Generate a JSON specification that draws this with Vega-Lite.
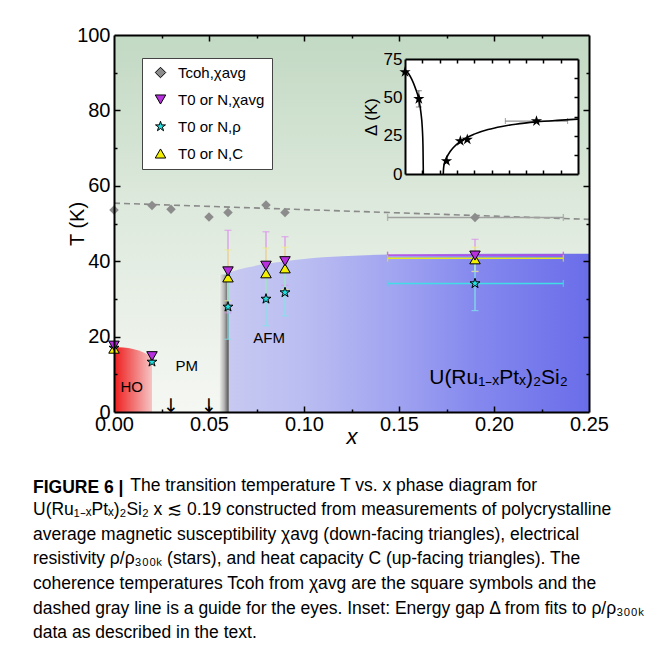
{
  "$schema": "https://vega.github.io/schema/vega-lite/v6.json",
  "width": 475,
  "height": 377,
  "autosize": {"type": "none"},
  "padding": {"left": 114, "top": 35, "right": 74, "bottom": 240},
  "background": "white",
  "config": {
    "view": {"stroke": null},
    "font": "Liberation Sans",
    "axis": {"labelFont": "Liberation Sans", "titleFont": "Liberation Sans", "grid": false, "domainColor": "black", "tickColor": "black", "labelColor": "black", "titleColor": "black", "labelFlush": false, "labelOverlap": false}
  },
  "title": {
    "text": "FIGURE 6 |",
    "subtitle": [
      "\u200b\u00a0\u00a0\u00a0\u00a0\u00a0\u00a0\u00a0\u00a0\u00a0\u00a0\u00a0\u00a0\u00a0\u00a0\u00a0\u00a0\u00a0\u00a0\u00a0\u00a0The transition temperature T vs. x phase diagram for",
      "U(Ru₁₋ₓPtₓ)₂Si₂ x ≲ 0.19 constructed from measurements of polycrystalline",
      "average magnetic susceptibility χavg (down-facing triangles), electrical",
      "resistivity ρ/ρ₃₀₀ₖ (stars), and heat capacity C (up-facing triangles). The",
      "coherence temperatures Tcoh from χavg are the square symbols and the",
      "dashed gray line is a guide for the eyes. Inset: Energy gap Δ from fits to ρ/ρ₃₀₀ₖ",
      "data as described in the text."
    ],
    "orient": "bottom",
    "anchor": "start",
    "frame": "group",
    "dx": -81,
    "offset": 32,
    "font": "Liberation Sans",
    "fontSize": 17.5,
    "fontWeight": "bold",
    "color": "black",
    "subtitleFont": "Liberation Sans",
    "subtitleFontSize": 17.5,
    "subtitleColor": "black",
    "subtitleLineHeight": 24.6,
    "subtitlePadding": -20
  },
  "datasets": {
    "ho": [
      {"x": 0, "T": 17.2}, {"x": 0.005, "T": 17.1}, {"x": 0.01, "T": 16.7}, {"x": 0.015, "T": 15.9}, {"x": 0.02, "T": 14.6}
    ],
    "afm": [
      {"x": 0.0605, "T": 37.0}, {"x": 0.07, "T": 38.3}, {"x": 0.08, "T": 39.3}, {"x": 0.09, "T": 40.0}, {"x": 0.1, "T": 40.6},
      {"x": 0.12, "T": 41.3}, {"x": 0.145, "T": 41.8}, {"x": 0.2, "T": 42.0}, {"x": 0.25, "T": 42.0}
    ],
    "dash": [{"x": 0, "T": 55.4}, {"x": 0.25, "T": 51.1}],
    "pts": [
      {"x": 0, "T": 53.6, "series": "Tcoh,χavg"},
      {"x": 0.02, "T": 54.8, "series": "Tcoh,χavg"},
      {"x": 0.03, "T": 53.8, "series": "Tcoh,χavg"},
      {"x": 0.05, "T": 51.7, "series": "Tcoh,χavg"},
      {"x": 0.06, "T": 52.9, "series": "Tcoh,χavg"},
      {"x": 0.08, "T": 54.9, "series": "Tcoh,χavg"},
      {"x": 0.09, "T": 52.9, "series": "Tcoh,χavg"},
      {"x": 0.19, "T": 51.6, "series": "Tcoh,χavg"},
      {"x": 0, "T": 17.0, "series": "T0 or N,ρ"},
      {"x": 0.02, "T": 13.3, "series": "T0 or N,ρ"},
      {"x": 0.06, "T": 27.9, "series": "T0 or N,ρ"},
      {"x": 0.08, "T": 30.0, "series": "T0 or N,ρ"},
      {"x": 0.09, "T": 31.7, "series": "T0 or N,ρ"},
      {"x": 0.19, "T": 34.1, "series": "T0 or N,ρ"},
      {"x": 0, "T": 16.8, "series": "T0 or N,C"},
      {"x": 0.06, "T": 35.7, "series": "T0 or N,C"},
      {"x": 0.08, "T": 36.8, "series": "T0 or N,C"},
      {"x": 0.09, "T": 38.1, "series": "T0 or N,C"},
      {"x": 0.19, "T": 40.5, "series": "T0 or N,C"},
      {"x": 0, "T": 17.6, "series": "T0 or N,χavg"},
      {"x": 0.02, "T": 14.8, "series": "T0 or N,χavg"},
      {"x": 0.06, "T": 37.3, "series": "T0 or N,χavg"},
      {"x": 0.08, "T": 38.8, "series": "T0 or N,χavg"},
      {"x": 0.09, "T": 40.0, "series": "T0 or N,χavg"},
      {"x": 0.19, "T": 41.5, "series": "T0 or N,χavg"}
    ],
    "errv": [
      {"x": 0.06, "lo": 26.3, "hi": 48.2, "series": "T0 or N,χavg"},
      {"x": 0.06, "lo": 29.5, "hi": 43.0, "series": "T0 or N,C"},
      {"x": 0.06, "lo": 19.3, "hi": 36.5, "series": "T0 or N,ρ"},
      {"x": 0.08, "lo": 29.8, "hi": 47.8, "series": "T0 or N,χavg"},
      {"x": 0.08, "lo": 30.2, "hi": 43.5, "series": "T0 or N,C"},
      {"x": 0.08, "lo": 22.9, "hi": 37.1, "series": "T0 or N,ρ"},
      {"x": 0.09, "lo": 33.6, "hi": 46.5, "series": "T0 or N,χavg"},
      {"x": 0.09, "lo": 32.5, "hi": 43.7, "series": "T0 or N,C"},
      {"x": 0.09, "lo": 25.5, "hi": 38.0, "series": "T0 or N,ρ"},
      {"x": 0.19, "lo": 37.2, "hi": 45.8, "series": "T0 or N,χavg"},
      {"x": 0.19, "lo": 37.3, "hi": 43.7, "series": "T0 or N,C"},
      {"x": 0.19, "lo": 26.9, "hi": 41.3, "series": "T0 or N,ρ"}
    ],
    "errh": [
      {"T": 51.6, "lo": 0.144, "hi": 0.2365, "series": "Tcoh,χavg"},
      {"T": 41.6, "lo": 0.144, "hi": 0.2365, "series": "T0 or N,χavg"},
      {"T": 40.8, "lo": 0.144, "hi": 0.2365, "series": "T0 or N,C"},
      {"T": 34.1, "lo": 0.144, "hi": 0.2365, "series": "T0 or N,ρ"}
    ],
    "labels": [
      {"x": 0.0093, "T": 6.7, "label": "HO"},
      {"x": 0.0383, "T": 12.3, "label": "PM"},
      {"x": 0.0816, "T": 19.5, "label": "AFM"}
    ],
    "compound": [{"x": 0.2024, "T": 7.4, "label": "U(Ru₁₋ₓPtₓ)₂Si₂"}],
    "arrows": [{"x": 0.03, "T": 0, "label": "↓"}, {"x": 0.05, "T": 0, "label": "↓"}],
    "gap": [
      {"x": 0, "D": 68, "branch": "L"}, {"x": 0.005, "D": 65.5, "branch": "L"}, {"x": 0.01, "D": 61.5, "branch": "L"},
      {"x": 0.015, "D": 56, "branch": "L"}, {"x": 0.02, "D": 48.5, "branch": "L"}, {"x": 0.023, "D": 40, "branch": "L"},
      {"x": 0.025, "D": 30, "branch": "L"}, {"x": 0.026, "D": 18, "branch": "L"}, {"x": 0.0265, "D": 0, "branch": "L"},
      {"x": 0.0553, "D": 0, "branch": "R"}, {"x": 0.0558, "D": 4, "branch": "R"}, {"x": 0.057, "D": 7, "branch": "R"},
      {"x": 0.06, "D": 10.5, "branch": "R"}, {"x": 0.065, "D": 14.5, "branch": "R"}, {"x": 0.07, "D": 17.3, "branch": "R"},
      {"x": 0.08, "D": 21.3, "branch": "R"}, {"x": 0.09, "D": 24, "branch": "R"}, {"x": 0.1, "D": 26, "branch": "R"},
      {"x": 0.12, "D": 29, "branch": "R"}, {"x": 0.14, "D": 31, "branch": "R"}, {"x": 0.16, "D": 32.5, "branch": "R"},
      {"x": 0.19, "D": 34, "branch": "R"}, {"x": 0.22, "D": 35, "branch": "R"}, {"x": 0.25, "D": 35.8, "branch": "R"}
    ],
    "gapstars": [
      {"x": 0, "D": 66.5}, {"x": 0.02, "D": 49}, {"x": 0.06, "D": 8.5}, {"x": 0.08, "D": 21.5}, {"x": 0.09, "D": 22.5}, {"x": 0.19, "D": 34.5}
    ],
    "gaperrv": [{"x": 0.02, "lo": 43.7, "hi": 54.3}],
    "gaperrh": [{"D": 34.5, "lo": 0.145, "hi": 0.235}]
  },
  "resolve": {"scale": {"x": "independent", "y": "independent"}},
  "layer": [
    {
      "resolve": {"axis": {"x": "independent", "y": "independent"}},
      "layer": [
        {
          "data": {"values": [{}]},
          "mark": {"type": "rect", "color": {"gradient": "linear", "x1": 0, "y1": 0, "x2": 0, "y2": 1, "stops": [{"offset": 0, "color": "#c2d9c3"}, {"offset": 0.45, "color": "#dde9dc"}, {"offset": 1, "color": "#f5f7f3"}]}},
          "encoding": {
            "x": {"datum": 0, "type": "quantitative", "scale": {"domain": [0, 0.25], "nice": false, "zero": false}, "axis": null},
            "x2": {"datum": 0.25},
            "y": {"datum": 0, "type": "quantitative", "scale": {"domain": [0, 100], "nice": false}, "axis": null},
            "y2": {"datum": 100}
          }
        },
        {
          "data": {"name": "ho"},
          "mark": {"type": "area", "interpolate": "monotone", "color": {"gradient": "linear", "x1": 0, "y1": 0, "x2": 1, "y2": 0, "stops": [{"offset": 0, "color": "#ee1c1c"}, {"offset": 1, "color": "#f6c4c4"}]}},
          "encoding": {
            "x": {"field": "x", "type": "quantitative", "scale": {"domain": [0, 0.25], "nice": false, "zero": false},
              "axis": {"orient": "bottom", "zindex": 2, "values": [0.025, 0.05, 0.075, 0.1, 0.125, 0.15, 0.175, 0.2, 0.225], "labels": false, "domain": false, "title": null, "tickWidth": 1.5,
                "tickSize": {"condition": {"test": "abs(datum.value*20 - round(datum.value*20)) < 0.001", "value": -6}, "value": -3}}},
            "y": {"field": "T", "type": "quantitative", "scale": {"domain": [0, 100], "nice": false},
              "axis": {"orient": "left", "zindex": 2, "values": [10, 20, 30, 40, 50, 60, 70, 80, 90], "labels": false, "domain": false, "title": null, "tickWidth": 1.5,
                "tickSize": {"condition": {"test": "datum.value % 20 === 0", "value": -6}, "value": -3}}}
          }
        },
        {
          "data": {"name": "afm"},
          "mark": {"type": "area", "interpolate": "monotone", "color": {"gradient": "linear", "x1": 0, "y1": 0, "x2": 1, "y2": 0, "stops": [{"offset": 0, "color": "#c7c9f1"}, {"offset": 0.21, "color": "#babdf1"}, {"offset": 0.47, "color": "#a0a3f0"}, {"offset": 0.68, "color": "#8589ee"}, {"offset": 1, "color": "#6a6de9"}]}},
          "encoding": {
            "x": {"field": "x", "type": "quantitative", "scale": {"domain": [0, 0.25], "nice": false, "zero": false},
              "axis": {"orient": "top", "zindex": 2, "values": [0.025, 0.05, 0.075, 0.1, 0.125, 0.15, 0.175, 0.2, 0.225], "labels": false, "domain": true, "domainWidth": 2, "title": null, "tickWidth": 1.5,
                "tickSize": {"condition": {"test": "abs(datum.value*20 - round(datum.value*20)) < 0.001", "value": -6}, "value": -3}}},
            "y": {"field": "T", "type": "quantitative", "scale": {"domain": [0, 100], "nice": false},
              "axis": {"orient": "right", "zindex": 2, "values": [10, 20, 30, 40, 50, 60, 70, 80, 90], "labels": false, "domain": true, "domainWidth": 2, "title": null, "tickWidth": 1.5,
                "tickSize": {"condition": {"test": "datum.value % 20 === 0", "value": -6}, "value": -3}}}
          }
        },
        {
          "data": {"values": [{}]},
          "mark": {"type": "rect", "color": {"gradient": "linear", "x1": 0, "y1": 0, "x2": 1, "y2": 0, "stops": [{"offset": 0, "color": "#eef1ec"}, {"offset": 0.5, "color": "#b4b4b4"}, {"offset": 0.9, "color": "#5e5e5e"}, {"offset": 1, "color": "#8a8a9a"}]}},
          "encoding": {
            "x": {"datum": 0.0555, "type": "quantitative", "axis": null},
            "x2": {"datum": 0.0605},
            "y": {"datum": 0, "type": "quantitative", "axis": null},
            "y2": {"datum": 36.5}
          }
        },
        {
          "data": {"name": "dash"},
          "mark": {"type": "line", "stroke": "#8a8a8a", "strokeWidth": 1.6, "strokeDash": [6, 4]},
          "encoding": {
            "x": {"field": "x", "type": "quantitative", "scale": {"domain": [0, 0.25], "nice": false, "zero": false},
              "axis": {"orient": "bottom", "zindex": 2, "values": [0, 0.05, 0.1, 0.15, 0.2, 0.25], "format": ".2f", "ticks": false, "labelPadding": 2, "labelFontSize": 20, "domain": true, "domainWidth": 2,
                "title": "x", "titleFontStyle": "italic", "titleFontWeight": "normal", "titleFontSize": 22, "titleX": 237.5, "titleY": 31, "titleBaseline": "alphabetic"}},
            "y": {"field": "T", "type": "quantitative", "scale": {"domain": [0, 100], "nice": false},
              "axis": {"orient": "left", "zindex": 2, "values": [0, 20, 40, 60, 80, 100], "ticks": false, "labelPadding": 4, "labelFontSize": 20, "domain": true, "domainWidth": 2,
                "title": "T (K)", "titleFontWeight": "normal", "titleFontSize": 20, "titleX": -37, "titleY": 188.5, "titleBaseline": "middle", "titleAngle": -90}}
          }
        },
        {
          "data": {"name": "errv"},
          "transform": [{"filter": "datum.series === 'T0 or N,χavg'"}],
          "mark": {"type": "errorbar", "ticks": {"size": 7}, "thickness": 1.2, "color": "#dc90ee"},
          "encoding": {
            "x": {"field": "x", "type": "quantitative", "axis": null},
            "y": {"field": "lo", "type": "quantitative", "axis": null},
            "y2": {"field": "hi"}
          }
        },
        {
          "data": {"name": "errv"},
          "transform": [{"filter": "datum.series === 'T0 or N,C'"}],
          "mark": {"type": "errorbar", "ticks": {"size": 7}, "thickness": 1.2, "color": "#efef80"},
          "encoding": {
            "x": {"field": "x", "type": "quantitative", "axis": null},
            "y": {"field": "lo", "type": "quantitative", "axis": null},
            "y2": {"field": "hi"}
          }
        },
        {
          "data": {"name": "errv"},
          "transform": [{"filter": "datum.series === 'T0 or N,ρ'"}],
          "mark": {"type": "errorbar", "ticks": {"size": 7}, "thickness": 1.2, "color": "#80e4ea"},
          "encoding": {
            "x": {"field": "x", "type": "quantitative", "axis": null},
            "y": {"field": "lo", "type": "quantitative", "axis": null},
            "y2": {"field": "hi"}
          }
        },
        {
          "data": {"name": "errh"},
          "transform": [{"filter": "datum.series === 'Tcoh,χavg'"}],
          "mark": {"type": "errorbar", "ticks": {"size": 7}, "thickness": 1.4, "color": "#a0a0a0"},
          "encoding": {
            "y": {"field": "T", "type": "quantitative", "axis": null},
            "x": {"field": "lo", "type": "quantitative", "axis": null},
            "x2": {"field": "hi"}
          }
        },
        {
          "data": {"name": "errh"},
          "transform": [{"filter": "datum.series === 'T0 or N,ρ'"}],
          "mark": {"type": "errorbar", "ticks": {"size": 7}, "thickness": 1.4, "color": "#40dde6"},
          "encoding": {
            "y": {"field": "T", "type": "quantitative", "axis": null},
            "x": {"field": "lo", "type": "quantitative", "axis": null},
            "x2": {"field": "hi"}
          }
        },
        {
          "data": {"name": "errh"},
          "transform": [{"filter": "datum.series === 'T0 or N,χavg'"}],
          "mark": {"type": "errorbar", "ticks": {"size": 7}, "thickness": 1.4, "color": "#c040e6"},
          "encoding": {
            "y": {"field": "T", "type": "quantitative", "axis": null},
            "x": {"field": "lo", "type": "quantitative", "axis": null},
            "x2": {"field": "hi"}
          }
        },
        {
          "data": {"name": "errh"},
          "transform": [{"filter": "datum.series === 'T0 or N,C'"}],
          "mark": {"type": "errorbar", "ticks": {"size": 7}, "thickness": 1.4, "color": "#e6e620"},
          "encoding": {
            "y": {"field": "T", "type": "quantitative", "axis": null},
            "x": {"field": "lo", "type": "quantitative", "axis": null},
            "x2": {"field": "hi"}
          }
        },
        {
          "data": {"name": "pts"},
          "transform": [{"filter": "datum.series === 'Tcoh,χavg'"}],
          "mark": {"type": "point", "filled": true, "size": 90, "opacity": 1},
          "encoding": {
            "x": {"field": "x", "type": "quantitative", "axis": null},
            "y": {"field": "T", "type": "quantitative", "axis": null},
            "color": {"field": "series", "type": "nominal",
              "scale": {"domain": ["Tcoh,χavg", "T0 or N,χavg", "T0 or N,ρ", "T0 or N,C"], "range": ["#8c8c8c", "#b82fe0", "#22dede", "#f2f000"]},
              "legend": {"title": null, "zindex": 3, "orient": "none", "legendX": 28, "legendY": 23, "fillColor": "white", "strokeColor": "#444", "padding": 7, "labelFontSize": 15, "labelFont": "Liberation Sans", "labelColor": "black", "symbolSize": 110, "symbolOpacity": 1, "symbolStrokeColor": "black", "symbolStrokeWidth": 1, "rowPadding": 11, "labelOffset": 10, "symbolOffset": 4}},
            "shape": {"field": "series", "type": "nominal",
              "scale": {"domain": ["Tcoh,χavg", "T0 or N,χavg", "T0 or N,ρ", "T0 or N,C"], "range": ["diamond", "triangle-down", "M0,-1L0.2245,-0.309L0.9511,-0.309L0.3633,0.118L0.5878,0.809L0,0.382L-0.5878,0.809L-0.3633,0.118L-0.9511,-0.309L-0.2245,-0.309Z", "triangle-up"]},
              "legend": {"title": null, "zindex": 3, "orient": "none", "legendX": 28, "legendY": 23, "fillColor": "white", "strokeColor": "#444", "padding": 7, "labelFontSize": 15, "labelFont": "Liberation Sans", "labelColor": "black", "symbolSize": 110, "symbolOpacity": 1, "symbolStrokeColor": "black", "symbolStrokeWidth": 1, "rowPadding": 11, "labelOffset": 10, "symbolOffset": 4}}
          }
        },
        {
          "data": {"name": "pts"},
          "transform": [{"filter": "datum.series !== 'Tcoh,χavg'"}],
          "mark": {"type": "point", "filled": true, "size": 110, "opacity": 1, "stroke": "black", "strokeWidth": 1},
          "encoding": {
            "x": {"field": "x", "type": "quantitative", "axis": null},
            "y": {"field": "T", "type": "quantitative", "axis": null},
            "color": {"field": "series", "type": "nominal"},
            "shape": {"field": "series", "type": "nominal"}
          }
        },
        {
          "data": {"name": "labels"},
          "mark": {"type": "text", "fontSize": 15, "font": "Liberation Sans", "color": "black", "baseline": "middle", "align": "center"},
          "encoding": {
            "x": {"field": "x", "type": "quantitative", "axis": null},
            "y": {"field": "T", "type": "quantitative", "axis": null},
            "text": {"field": "label"}
          }
        },
        {
          "data": {"name": "compound"},
          "mark": {"type": "text", "fontSize": 21, "font": "Liberation Sans", "color": "black", "baseline": "alphabetic", "align": "center"},
          "encoding": {
            "x": {"field": "x", "type": "quantitative", "axis": null},
            "y": {"field": "T", "type": "quantitative", "axis": null},
            "text": {"field": "label"}
          }
        },
        {
          "data": {"name": "arrows"},
          "mark": {"type": "text", "fontSize": 19, "font": "DejaVu Sans", "color": "black", "baseline": "alphabetic", "align": "center"},
          "encoding": {
            "x": {"field": "x", "type": "quantitative", "axis": null},
            "y": {"field": "T", "type": "quantitative", "axis": null},
            "text": {"field": "label"}
          }
        }
      ]
    },
    {
      "resolve": {"axis": {"x": "independent", "y": "independent"}},
      "layer": [
        {
          "data": {"values": [{}]},
          "mark": {"type": "rect", "fill": "white"},
          "encoding": {
            "x": {"datum": 0, "type": "quantitative", "scale": {"domain": [0, 0.25], "range": [291, 464], "nice": false, "zero": false}, "axis": null},
            "x2": {"datum": 0.25},
            "y": {"datum": 0, "type": "quantitative", "scale": {"domain": [0, 75], "range": [139, 24], "nice": false}, "axis": null},
            "y2": {"datum": 75}
          }
        },
        {
          "data": {"name": "gaperrv"},
          "mark": {"type": "errorbar", "ticks": {"size": 6}, "thickness": 1, "color": "#555"},
          "encoding": {
            "x": {"field": "x", "type": "quantitative", "axis": null},
            "y": {"field": "lo", "type": "quantitative", "axis": null},
            "y2": {"field": "hi"}
          }
        },
        {
          "data": {"name": "gaperrh"},
          "mark": {"type": "errorbar", "ticks": {"size": 6}, "thickness": 1, "color": "#777"},
          "encoding": {
            "y": {"field": "D", "type": "quantitative", "axis": null},
            "x": {"field": "lo", "type": "quantitative", "axis": null},
            "x2": {"field": "hi"}
          }
        },
        {
          "data": {"name": "gap"},
          "mark": {"type": "line", "stroke": "black", "strokeWidth": 1.6, "interpolate": "monotone"},
          "encoding": {
            "x": {"field": "x", "type": "quantitative", "scale": {"domain": [0, 0.25], "range": [291, 464], "nice": false, "zero": false},
              "axis": {"orient": "bottom", "zindex": 2, "offset": -238, "values": [0.025, 0.05, 0.075, 0.1, 0.125, 0.15, 0.175, 0.2, 0.225], "labels": false, "domain": true, "domainWidth": 2, "tickSize": -4, "tickWidth": 1.5, "title": null}},
            "y": {"field": "D", "type": "quantitative", "scale": {"domain": [0, 75], "range": [139, 24], "nice": false},
              "axis": {"orient": "left", "zindex": 2, "offset": -291, "values": [0, 25, 50, 75], "ticks": false, "labelPadding": 3, "labelFontSize": 17, "domain": true, "domainWidth": 2,
                "title": "Δ (K)", "titleFontWeight": "normal", "titleFontSize": 17, "titlePadding": 3}},
            "detail": {"field": "branch"}
          }
        },
        {
          "data": {"name": "gapstars"},
          "mark": {"type": "point", "filled": true, "fill": "black", "size": 140, "opacity": 1, "shape": "M0,-1L0.2245,-0.309L0.9511,-0.309L0.3633,0.118L0.5878,0.809L0,0.382L-0.5878,0.809L-0.3633,0.118L-0.9511,-0.309L-0.2245,-0.309Z"},
          "encoding": {
            "x": {"field": "x", "type": "quantitative",
              "axis": {"orient": "top", "zindex": 2, "offset": -24, "values": [0.025, 0.05, 0.075, 0.1, 0.125, 0.15, 0.175, 0.2, 0.225], "labels": false, "domain": true, "domainWidth": 2, "tickSize": -4, "tickWidth": 1.5, "title": null}},
            "y": {"field": "D", "type": "quantitative",
              "axis": {"orient": "right", "zindex": 2, "offset": -11, "values": [12.5, 25, 37.5, 50, 62.5], "labels": false, "domain": true, "domainWidth": 2, "tickSize": -4, "tickWidth": 1.5, "title": null}}
          }
        }
      ]
    }
  ]
}
